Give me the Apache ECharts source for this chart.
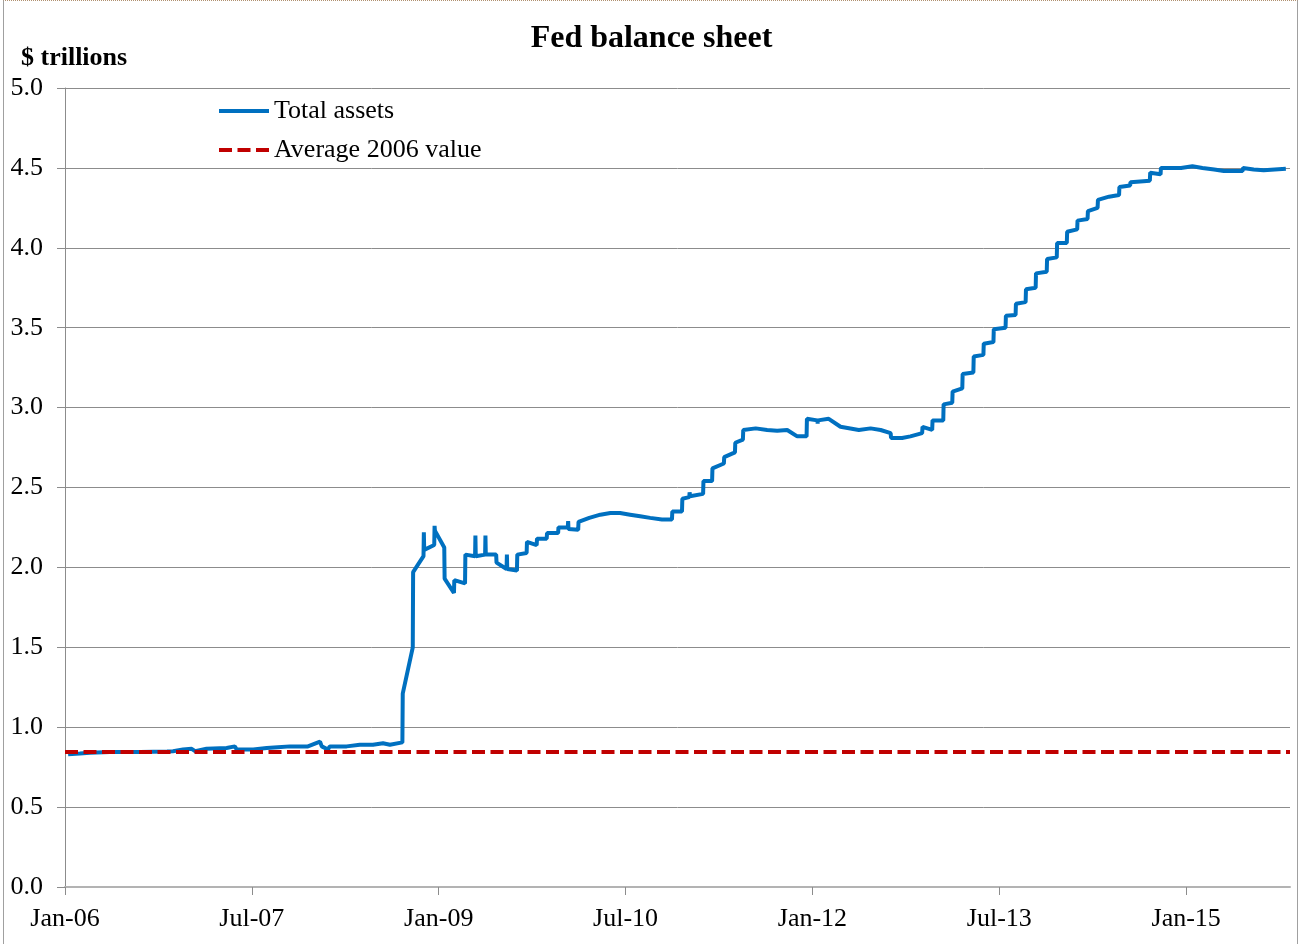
<!DOCTYPE html>
<html>
<head>
<meta charset="utf-8">
<script src="https://cdn.jsdelivr.net/npm/echarts@6/dist/echarts.min.js"></script>
<style>
  html, body { margin: 0; padding: 0; background: #fff; }
  #chart { width: 1303px; height: 944px; }
  #frame { position: absolute; left: 3px; top: 0; width: 1295px; height: 944px;
           border-left: 1px solid #a0a0a0; border-right: 1px solid #a0a0a0;
           border-top: 1px dotted #b09070; box-sizing: border-box; pointer-events: none; }
</style>
</head>
<body>
<div id="chart"></div>
<div id="frame"></div>
<script>
// x ticks every 18 months from Jan-06
const tickLabels = ["Jan-06", "Jul-07", "Jan-09", "Jul-10", "Jan-12", "Jul-13", "Jan-15"];

const dates = [
  "2006-01-10", "2006-02-14", "2006-03-13", "2006-05-11", "2006-08-08", "2006-10-26",
  "2006-11-13", "2006-12-12", "2007-01-07", "2007-01-17", "2007-02-20", "2007-04-18",
  "2007-05-12", "2007-05-17", "2007-07-05", "2007-08-14", "2007-09-16", "2007-10-21",
  "2007-12-13", "2008-01-18", "2008-01-23", "2008-02-11", "2008-02-16", "2008-04-05",
  "2008-05-13", "2008-06-21", "2008-07-20", "2008-08-10", "2008-09-16", "2008-09-17",
  "2008-10-16", "2008-10-17", "2008-11-17", "2008-11-18", "2008-11-19", "2008-12-18",
  "2008-12-19", "2008-12-20", "2009-01-17", "2009-01-18", "2009-02-15", "2009-02-16",
  "2009-03-17", "2009-03-18", "2009-04-16", "2009-04-17", "2009-04-18", "2009-05-15",
  "2009-05-16", "2009-05-17", "2009-06-17", "2009-06-18", "2009-07-17", "2009-07-18",
  "2009-07-19", "2009-08-17", "2009-08-18", "2009-09-15", "2009-09-16", "2009-10-14",
  "2009-10-15", "2009-11-13", "2009-11-14", "2009-12-16", "2009-12-17", "2010-01-14",
  "2010-01-15", "2010-01-16", "2010-02-14", "2010-02-15", "2010-03-16", "2010-03-17",
  "2010-04-18", "2010-05-17", "2010-06-15", "2010-07-14", "2010-08-13", "2010-08-14",
  "2010-09-12", "2010-10-16", "2010-11-15", "2010-11-16", "2010-12-14", "2010-12-15",
  "2011-01-05", "2011-01-06", "2011-01-07", "2011-02-15", "2011-02-16", "2011-03-11",
  "2011-03-12", "2011-04-15", "2011-04-16", "2011-05-17", "2011-05-18", "2011-06-10",
  "2011-06-11", "2011-07-17", "2011-08-20", "2011-09-19", "2011-10-18", "2011-11-17",
  "2011-12-14", "2011-12-15", "2012-01-15", "2012-01-16", "2012-01-17", "2012-02-18",
  "2012-03-22", "2012-05-15", "2012-06-19", "2012-07-18", "2012-08-17", "2012-08-18",
  "2012-09-20", "2012-10-14", "2012-11-18", "2012-11-19", "2012-12-17", "2012-12-18",
  "2013-01-19", "2013-01-20", "2013-02-15", "2013-02-16", "2013-03-14", "2013-03-15",
  "2013-04-16", "2013-04-17", "2013-05-15", "2013-05-16", "2013-06-14", "2013-06-15",
  "2013-07-19", "2013-07-20", "2013-08-18", "2013-08-19", "2013-09-17", "2013-09-18",
  "2013-10-16", "2013-10-17", "2013-11-18", "2013-11-19", "2013-12-17", "2013-12-18",
  "2014-01-16", "2014-01-17", "2014-02-16", "2014-02-17", "2014-03-16", "2014-03-17",
  "2014-04-15", "2014-04-16", "2014-05-18", "2014-06-17", "2014-06-18", "2014-07-19",
  "2014-07-20", "2014-09-16", "2014-09-17", "2014-10-17", "2014-10-18", "2014-12-16",
  "2015-01-19", "2015-02-18", "2015-03-22", "2015-04-20", "2015-06-14", "2015-06-15",
  "2015-06-16", "2015-07-16", "2015-08-15", "2015-10-19"
];

const totalAssets = [
  0.83, 0.835, 0.84, 0.845, 0.845, 0.848,
  0.85, 0.86, 0.865, 0.85, 0.865, 0.87,
  0.88, 0.86, 0.86, 0.87, 0.875, 0.88,
  0.88, 0.91, 0.88, 0.86, 0.88, 0.88,
  0.89, 0.89, 0.90, 0.89, 0.905, 1.21,
  1.50, 1.97, 2.07, 2.22, 2.11, 2.14,
  2.26, 2.23, 2.125, 1.93, 1.84, 1.92,
  1.90, 2.08, 2.07, 2.20, 2.07, 2.08,
  2.20, 2.08, 2.08, 2.03, 1.99, 2.08,
  1.99, 1.98, 2.08, 2.09, 2.16, 2.14,
  2.18, 2.18, 2.215, 2.215, 2.25, 2.25,
  2.29, 2.24, 2.235, 2.285, 2.31, 2.32,
  2.33, 2.34, 2.34, 2.33, 2.32, 2.31,
  2.31, 2.30, 2.30, 2.35, 2.35, 2.43,
  2.44, 2.47, 2.445, 2.46, 2.54, 2.54,
  2.62, 2.65, 2.69, 2.72, 2.78, 2.80,
  2.86, 2.87, 2.86, 2.855, 2.86, 2.82,
  2.82, 2.93, 2.92, 2.90, 2.92, 2.93,
  2.88, 2.86, 2.87, 2.86, 2.84, 2.81,
  2.81, 2.82, 2.84, 2.88, 2.86, 2.92,
  2.92, 3.02, 3.03, 3.10, 3.12, 3.21,
  3.22, 3.32, 3.33, 3.40, 3.41, 3.49,
  3.50, 3.575, 3.58, 3.65, 3.66, 3.74,
  3.75, 3.84, 3.85, 3.93, 3.94, 4.03,
  4.03, 4.10, 4.115, 4.17, 4.18, 4.23,
  4.25, 4.30, 4.32, 4.33, 4.38, 4.39,
  4.41, 4.42, 4.47, 4.46, 4.50, 4.50,
  4.51, 4.50, 4.49, 4.48, 4.48, 4.50,
  4.49, 4.49, 4.485, 4.495
];

const avg2006 = 0.845;
const xMax = 118; // months after Jan-06 where the axis ends

// months since Jan 2006, so 18-month ticks line up exactly
function monthIndex(d) {
  const [y, m, day] = d.split("-").map(Number);
  return (y - 2006) * 12 + (m - 1) + (day - 1) / 30;
}

const font = "Liberation Serif";
const chart = echarts.init(document.getElementById("chart"), null, { renderer: "canvas" });

chart.setOption({
  animation: false,
  backgroundColor: "#fff",
  title: {
    text: "Fed balance sheet",
    left: "center",
    top: 18,
    textStyle: { fontFamily: font, fontSize: 32, fontWeight: "bold", color: "#000" }
  },
  graphic: [{
    type: "text",
    left: 21,
    top: 45,
    style: { text: "$ trillions", font: "bold 26px 'Liberation Serif'", fill: "#000" }
  }],
  legend: {
    orient: "vertical",
    left: 212,
    top: 93,
    itemWidth: 50,
    itemHeight: 26,
    itemGap: 13,
    itemStyle: { opacity: 0 },
    lineStyle: { width: 4 },
    textStyle: { fontFamily: font, fontSize: 26, color: "#000" },
    data: ["Total assets", "Average 2006 value"]
  },
  grid: { left: 65, right: 13, top: 88, bottom: 57 },
  xAxis: {
    type: "value",
    min: 0,
    max: xMax,
    interval: 18,
    axisLine: { lineStyle: { color: "#b3b3b3", width: 2 } },
    axisTick: { show: true, length: 8, lineStyle: { color: "#8c8c8c" } },
    splitLine: { show: false },
    axisLabel: {
      margin: 19,
      fontFamily: font,
      fontSize: 26,
      color: "#000",
      showMaxLabel: false,
      formatter: v => tickLabels[Math.round(v / 18)] || ""
    }
  },
  yAxis: {
    type: "value",
    min: 0,
    max: 5,
    interval: 0.5,
    axisLine: { show: true, lineStyle: { color: "#8c8c8c", width: 1 } },
    axisTick: { show: true, length: 8, lineStyle: { color: "#8c8c8c" } },
    splitLine: { lineStyle: { color: "#8c8c8c", width: 1 } },
    axisLabel: {
      margin: 22,
      fontFamily: font,
      fontSize: 26,
      color: "#000",
      formatter: v => v.toFixed(1)
    }
  },
  series: [
    {
      name: "Total assets",
      type: "line",
      symbol: "none",
      z: 3,
      lineStyle: { color: "#0070C0", width: 4 },
      itemStyle: { color: "#0070C0" },
      data: dates.map((d, i) => [monthIndex(d), totalAssets[i]])
    },
    {
      name: "Average 2006 value",
      type: "line",
      symbol: "none",
      z: 4,
      lineStyle: { color: "#C00000", width: 4, type: [13, 5.5] },
      itemStyle: { color: "#C00000" },
      data: [[0, avg2006], [xMax, avg2006]]
    }
  ]
});
</script>
</body>
</html>
